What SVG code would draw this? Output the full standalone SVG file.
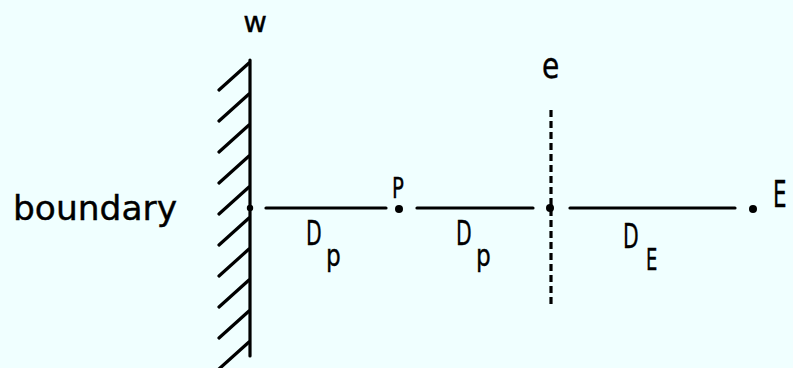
<svg xmlns="http://www.w3.org/2000/svg" width="793" height="368" viewBox="0 0 793 368">
<style>
.ln{stroke:#000;stroke-width:3.2;fill:none;stroke-linecap:round}
.dash{stroke:#000;stroke-width:3.2;fill:none;stroke-dasharray:7 4}
.t{font-family:"DejaVu Sans","Liberation Sans",sans-serif;fill:#000;stroke:#000;stroke-width:0.4}
.dot{fill:#000}
</style>
<rect width="793" height="368" fill="#F0FFFF"/>
<g id="wall">
<line class="ln" x1="250" y1="60" x2="250" y2="356"/>
<path class="ln" d="M249 63 L219 90 M249 94 L219 121 M249 125 L219 152 M249 156 L219 183 M249 187 L219 214 M249 218 L219 245 M249 249 L219 276 M249 280 L219 307 M249 311 L219 338 M249 342 L219 369"/>
<circle class="dot" cx="250" cy="208" r="3.2"/>
<text class="t" x="255" y="32" font-size="29" text-anchor="middle">w</text>
</g>
<g id="boundary-label">
<text class="t" x="13" y="220" font-size="33" textLength="164" lengthAdjust="spacingAndGlyphs">boundary</text>
</g>
<g id="node-P">
<circle class="dot" cx="399" cy="209" r="4"/>
<text class="t" transform="translate(392,198) scale(0.68,1)" font-size="29">P</text>
</g>
<g id="face-e">
<line class="dash" x1="551" y1="110" x2="551" y2="307"/>
<circle class="dot" cx="550" cy="208" r="4"/>
<text class="t" transform="translate(542,78) scale(0.78,1)" font-size="36">e</text>
</g>
<g id="node-E">
<circle class="dot" cx="753" cy="209" r="4"/>
<text class="t" transform="translate(773,207) scale(0.58,1)" font-size="37">E</text>
</g>
<g id="connectors">
<line class="ln" x1="266" y1="208" x2="386" y2="208"/>
<line class="ln" x1="417" y1="208" x2="533" y2="208"/>
<line class="ln" x1="570" y1="208" x2="735" y2="208"/>
</g>
<g id="labels">
<text class="t" transform="translate(306,245) scale(0.6,1)" font-size="34">D</text>
<text class="t" transform="translate(326,266) scale(0.75,1)" font-size="31">p</text>
<text class="t" transform="translate(456,245) scale(0.6,1)" font-size="34">D</text>
<text class="t" transform="translate(476,266) scale(0.75,1)" font-size="31">p</text>
<text class="t" transform="translate(623,248) scale(0.6,1)" font-size="34">D</text>
<text class="t" transform="translate(646,270) scale(0.6,1)" font-size="30">E</text>
</g>
</svg>
